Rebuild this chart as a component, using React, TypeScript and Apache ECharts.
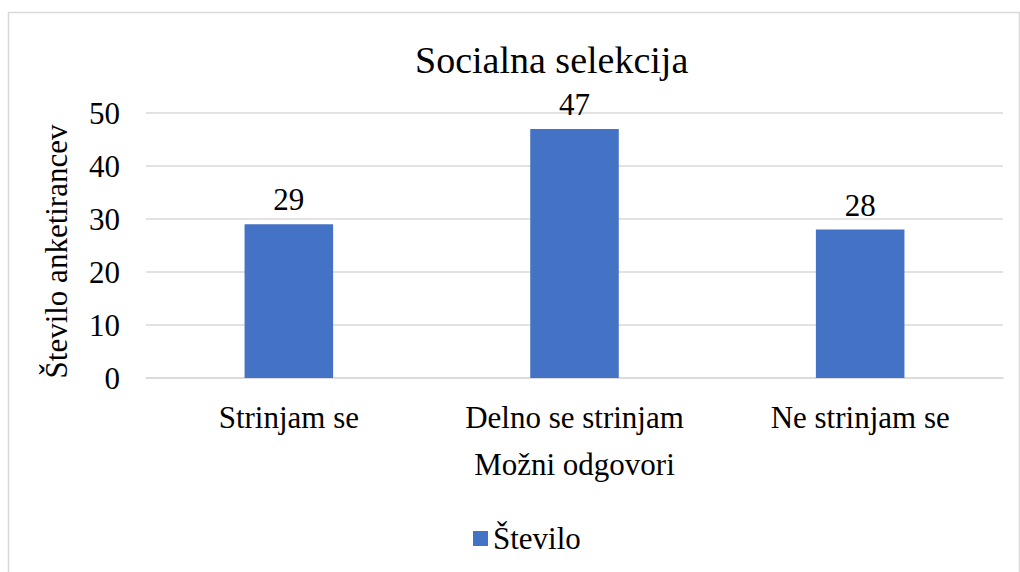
import React, { useEffect, useRef } from "react";
import * as echarts from "echarts";

const categories = ["Strinjam se", "Delno se strinjam", "Ne strinjam se"];
const values = [29, 47, 28];
const seriesName = "Število";
const titleText = "Socialna selekcija";
const xAxisName = "Možni odgovori";
const yAxisName = "Število anketirancev";

const FONT = "Liberation Serif";

export default function App() {
  const ref = useRef<HTMLDivElement>(null);
  useEffect(() => {
    if (!ref.current) return;
    const chart = echarts.init(ref.current, null, { renderer: "svg" });
    chart.setOption({
      animation: false,
      backgroundColor: "#ffffff",
      textStyle: { fontFamily: FONT, color: "#000" },
      title: {
        text: titleText,
        left: 410,
        top: 36,
        textStyle: { fontFamily: FONT, fontSize: 38, fontWeight: "normal", color: "#000" },
      },
      graphic: [
        {
          type: "rect",
          shape: { x: 8.5, y: 12.5, width: 1011, height: 600 },
          style: { fill: "none", stroke: "#d9d9d9", lineWidth: 1.5 },
          silent: true,
        },
      ],
      legend: {
        bottom: 13,
        left: 468,
        itemWidth: 15,
        itemHeight: 15,
        itemGap: 10,
        icon: "rect",
        textStyle: { fontFamily: FONT, fontSize: 31, color: "#000" },
        data: [seriesName],
      },
      grid: { left: 146, right: 17, top: 113, bottom: 194, containLabel: false },
      xAxis: {
        type: "category",
        data: categories,
        name: xAxisName,
        nameLocation: "middle",
        nameGap: 71,
        nameTextStyle: { fontFamily: FONT, fontSize: 31, color: "#000" },
        axisLine: { lineStyle: { color: "#d9d9d9", width: 1.5 } },
        axisTick: { show: false },
        axisLabel: { fontFamily: FONT, fontSize: 31, color: "#000", margin: 24 },
      },
      yAxis: {
        type: "value",
        min: 0,
        max: 50,
        interval: 10,
        name: yAxisName,
        nameLocation: "middle",
        nameRotate: 90,
        nameGap: 74,
        nameTextStyle: { fontFamily: FONT, fontSize: 31, color: "#000", padding: [0, 12, 0, 0] },
        axisLine: { show: false },
        axisTick: { show: false },
        splitLine: { lineStyle: { color: "#d9d9d9", width: 1.5 } },
        axisLabel: { fontFamily: FONT, fontSize: 31, color: "#000", margin: 26 },
      },
      series: [
        {
          name: seriesName,
          type: "bar",
          data: values,
          barWidth: "31%",
          itemStyle: { color: "#4472C4" },
          label: {
            show: true,
            position: "top",
            distance: 9,
            fontFamily: FONT,
            fontSize: 31,
            color: "#000",
          },
        },
      ],
    });
    return () => chart.dispose();
  }, []);
  return (
    <div
      ref={ref}
      style={{ position: "absolute", left: 0, top: 0, width: 1020, height: 572 }}
    />
  );
}
